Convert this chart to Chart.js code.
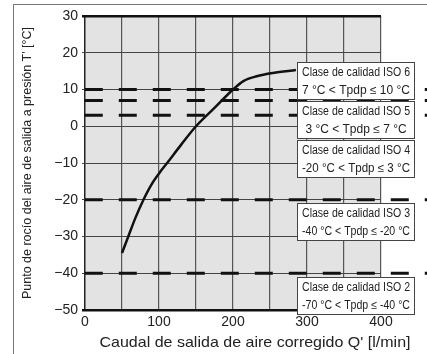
<!DOCTYPE html>
<html>
<head>
<meta charset="utf-8">
<script src="https://cdn.jsdelivr.net/npm/chart.js@4"></script>
<style>
  html, body { margin: 0; padding: 0; background: #fff; }
  #wrap { width: 427px; height: 354px; }
</style>
</head>
<body>
<div id="wrap"><canvas id="dewChart" width="427" height="354"></canvas></div>
<script>
// Dew point curve
const flowRates = [50, 58.5, 68, 79, 90, 104, 111, 130, 150, 175, 200, 214, 232, 254, 285];
const dewPoints = [-34.5, -30, -25, -20, -15.8, -11.8, -10, -5, 0, 5, 10, 12.3, 13.6, 14.5, 15.3];

// ISO class boundaries (dashed lines)
const classLimits = [10, 7, 3, -20, -40];

// ISO class labels
const isoClasses = ['Clase de calidad ISO 6', 'Clase de calidad ISO 5', 'Clase de calidad ISO 4', 'Clase de calidad ISO 3', 'Clase de calidad ISO 2'];
const isoRanges = ['7 °C < Tpdp ≤ 10 °C', '3 °C < Tpdp ≤ 7 °C', '-20 °C < Tpdp ≤ 3 °C', '-40 °C < Tpdp ≤ -20 °C', '-70 °C < Tpdp ≤ -40 °C'];
const boxTops = [62, 101, 140, 203, 277];

const xTicks = [0, 100, 200, 300, 400];
const yTicks = [30, 20, 10, 0, -10, -20, -30, -40, -50];

const xTitle = "Caudal de salida de aire corregido Q' [l/min]";

const FONT = "'Liberation Sans', Arial, sans-serif";

const limitSets = classLimits.map(v => ({
    data: [{ x: -3, y: v }, { x: 465, y: v }],
    borderColor: '#111',
    borderWidth: 3,
    borderDash: [18, 16],
    borderDashOffset: -2,
    pointRadius: 0,
    clip: false,
    order: 2
}));

// draw text squeezed into a given width
function fitText(ctx, txt, x, y, maxW) {
    const tw = ctx.measureText(txt).width;
    const sx = maxW / tw;
    ctx.save();
    ctx.translate(x, y);
    ctx.scale(sx, 1);
    ctx.fillText(txt, 0, 0);
    ctx.restore();
}

// Outer frame and plot background
const framePlugin = {
    id: 'frame',
    beforeDraw(chart) {
        const ctx = chart.ctx;
        const a = chart.chartArea;
        ctx.save();
        ctx.strokeStyle = '#777';
        ctx.lineWidth = 1;
        ctx.strokeRect(13.5, 4.5, 500, 500);
        ctx.fillStyle = '#e3e3e3';
        ctx.fillRect(a.left, a.top, a.right - a.left, a.bottom - a.top);
        ctx.restore();
    },
    afterDraw(chart) {
        const ctx = chart.ctx;
        ctx.save();
        ctx.font = '15px ' + FONT;
        ctx.fillStyle = '#222';
        ctx.textAlign = 'center';
        ctx.textBaseline = 'middle';
        fitText(ctx, xTitle, 255, 343, 311);
        ctx.restore();
    }
};

// Class label boxes on the right
const boxPlugin = {
    id: 'classBoxes',
    afterDatasetsDraw(chart) {
        const ctx = chart.ctx;
        const left = 297, w = 118, h = 38;
        ctx.save();
        ctx.textAlign = 'center';
        ctx.textBaseline = 'middle';
        ctx.font = '12px ' + FONT;
        isoClasses.forEach((name, i) => {
            const top = boxTops[i];
            ctx.fillStyle = '#fff';
            ctx.fillRect(left, top, w, h);
            ctx.strokeStyle = '#444';
            ctx.lineWidth = 1;
            ctx.strokeRect(left + 0.5, top + 0.5, w - 1, h - 1);
            ctx.fillStyle = '#222';
            [name, isoRanges[i]].forEach((txt, j) => {
                const tw = ctx.measureText(txt).width;
                fitText(ctx, txt, left + w / 2, top + 10.5 + j * 18, Math.min(tw, 108));
            });
        });
        ctx.restore();
    }
};

new Chart(document.getElementById('dewChart'), {
    type: 'line',
    data: {
        datasets: [{
            data: flowRates.map((x, i) => ({ x, y: dewPoints[i] })),
            borderColor: '#111',
            borderWidth: 2.5,
            pointRadius: 0,
            cubicInterpolationMode: 'monotone',
            order: 1
        }, ...limitSets]
    },
    options: {
        responsive: false,
        animation: false,
        layout: { padding: { left: 14, top: 16, right: 46, bottom: 0 } },
        plugins: { legend: { display: false }, tooltip: { enabled: false } },
        scales: {
            x: {
                type: 'linear',
                min: 0,
                max: 400,
                border: { display: false },
                ticks: {
                    stepSize: 50,
                    padding: 4,
                    color: '#222',
                    font: { family: FONT, size: 14 },
                    maxRotation: 0,
                    callback: v => xTicks.includes(v) ? String(v) : ''
                },
                grid: {
                    color: ctx => ctx.tick && ctx.tick.value === 0 ? '#222' : '#555',
                    lineWidth: ctx => ctx.tick && ctx.tick.value === 0 ? 1.5 : 1.2,
                    tickLength: 0
                },
                afterFit: s => { s.height = 44; }
            },
            y: {
                min: -50,
                max: 30,
                border: { display: false },
                ticks: {
                    stepSize: 10,
                    padding: 4,
                    color: '#222',
                    font: { family: FONT, size: 14 },
                    callback: v => yTicks.includes(v) ? String(v).replace('-', '\u2212') : ''
                },
                grid: {
                    color: ctx => ctx.tick && (ctx.tick.value === 30 || ctx.tick.value === -50) ? '#111' : '#444',
                    lineWidth: ctx => ctx.tick && (ctx.tick.value === 30 || ctx.tick.value === -50) ? 2.5 : 1,
                    tickLength: 3
                },
                title: {
                    display: true,
                    text: "Punto de rocío del aire de salida a presión T' [°C]",
                    color: '#222',
                    font: { family: FONT, size: 12.5 },
                    padding: { top: 6, bottom: 0 }
                },
                afterFit: s => { s.width = 71; }
            }
        }
    },
    plugins: [framePlugin, boxPlugin]
});
</script>
</body>
</html>
